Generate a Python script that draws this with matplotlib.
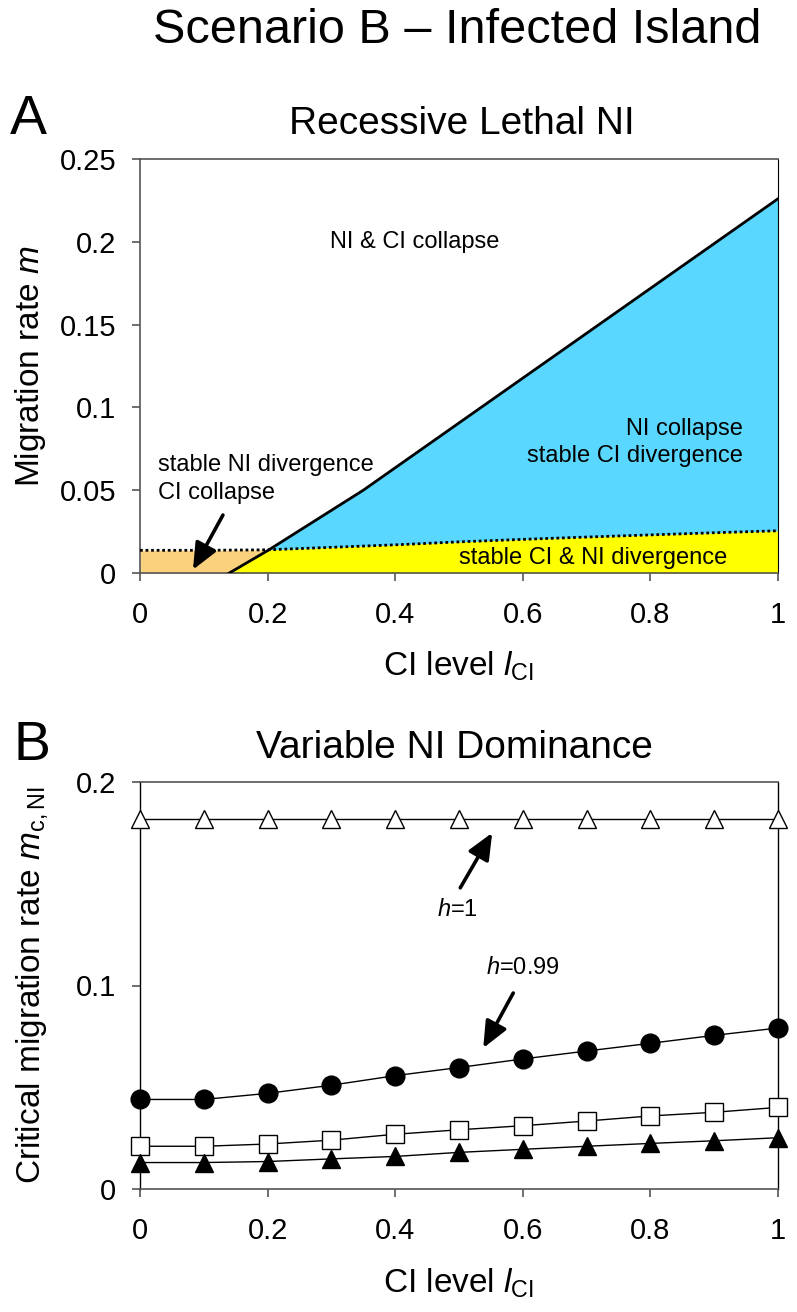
import numpy as np
import matplotlib
matplotlib.use("Agg")
import matplotlib.pyplot as plt
from matplotlib.ticker import FormatStrFormatter

plt.rcParams['font.family'] = ['Liberation Sans', 'DejaVu Sans']
plt.rcParams['mathtext.fontset'] = 'custom'
plt.rcParams['mathtext.rm'] = 'Liberation Sans'
plt.rcParams['mathtext.it'] = 'Liberation Sans:italic'
plt.rcParams['mathtext.bf'] = 'Liberation Sans:bold'

# ---- panel A: phase boundaries ----
solid_x = [0.14, 0.2, 0.35, 1.0]          # CI collapse boundary
solid_y = [0.0, 0.0135, 0.05, 0.226]
dotted_x = [0.0, 0.1, 0.2, 0.3, 0.4, 0.5, 0.6, 0.7, 0.8, 0.9, 1.0]   # NI collapse boundary
dotted_y = [0.0137, 0.0137, 0.014, 0.0155, 0.017, 0.0188, 0.0203, 0.0217, 0.023, 0.0243, 0.0255]

# ---- panel B: critical migration rate vs CI level ----
ci_level = [0.0, 0.1, 0.2, 0.3, 0.4, 0.5, 0.6, 0.7, 0.8, 0.9, 1.0]
m_h1 = [0.182] * 11
m_h099 = [0.044, 0.044, 0.047, 0.051, 0.0557, 0.0597, 0.0639, 0.0678, 0.0716, 0.0755, 0.0791]
m_sq = [0.021, 0.021, 0.0221, 0.024, 0.0269, 0.0291, 0.0311, 0.0334, 0.0359, 0.0377, 0.0401]
m_tri = [0.013, 0.013, 0.0135, 0.0148, 0.016, 0.018, 0.0195, 0.021, 0.0224, 0.0237, 0.0252]

orange = '#FAD27D'
blue = '#5AD7FF'
yellow = '#FFFF00'
spine_col = '#555555'

W, H = 797, 1312
fig = plt.figure(figsize=(W / 100, H / 100), dpi=100)
axA = fig.add_axes([140 / W, 1 - 573 / H, 638 / W, 414 / H])
axB = fig.add_axes([140 / W, 1 - 1189 / H, 638 / W, 407 / H])

def style(ax):
    for s in ['top', 'bottom', 'left']:
        ax.spines[s].set_color(spine_col)
        ax.spines[s].set_linewidth(1.2)
    ax.spines['right'].set_color('black')
    ax.tick_params(direction='out', length=6, width=1.2, color=spine_col, labelsize=21)
    ax.tick_params(axis='x', pad=14)
    ax.tick_params(axis='y', pad=11)
    ax.set_xlim(0, 1)
    ax.set_xticks([0, 0.2, 0.4, 0.6, 0.8, 1.0])
    ax.xaxis.set_major_formatter(FormatStrFormatter('%g'))
    ax.yaxis.set_major_formatter(FormatStrFormatter('%g'))
    ax.set_xlabel(r'CI level $\mathit{l}_{\rm CI}$', fontsize=24)

# ---- panel A ----
style(axA)
xs = np.linspace(0, 1, 1001)
s = np.interp(xs, solid_x, solid_y, left=0.0)
d = np.interp(xs, dotted_x, dotted_y)
axA.fill_between(xs, 0, d, color=orange, lw=0, zorder=1)
axA.fill_between(xs, 0, np.minimum(s, d), color=yellow, lw=0, zorder=2)
axA.fill_between(xs, d, s, where=s > d, interpolate=True, color=blue, lw=0, zorder=2)
axA.plot(dotted_x, dotted_y, color='black', ls=(0, (1, 1)), lw=2, zorder=3)
axA.plot(solid_x, solid_y, color='black', lw=2, zorder=4)
axA.set_ylim(0, 0.25)
axA.set_yticks([0, 0.05, 0.1, 0.15, 0.2, 0.25])
axA.set_ylabel(r'Migration rate $\mathit{m}$', fontsize=24, va='center')
axA.yaxis.set_label_coords(-0.172, 0.5)
axA.xaxis.set_label_coords(0.5, -0.185)

axA.text(0.43, 0.2, 'NI & CI collapse', fontsize=17, ha='center', va='center')
axA.text(0.028, 0.057, 'stable NI divergence\nCI collapse', fontsize=17,
         ha='left', va='center', linespacing=1.35)
axA.text(0.945, 0.079, 'NI collapse\nstable CI divergence', fontsize=17,
         ha='right', va='center', multialignment='right', linespacing=1.3)
axA.text(0.71, 0.009, 'stable CI & NI divergence', fontsize=17, ha='center', va='center')
arrow = dict(arrowstyle='-|>,head_length=0.8,head_width=0.35', color='black',
             lw=2.6, mutation_scale=20, shrinkA=0, shrinkB=0)
axA.annotate('', xy=(0.083, 0.002), xytext=(0.13, 0.035), arrowprops=arrow, zorder=5)

# ---- panel B ----
style(axB)
axB.set_ylim(0, 0.2)
axB.set_yticks([0, 0.1, 0.2])
axB.spines['left'].set_color('black')
axB.spines['left'].set_linewidth(1)
axB.spines['right'].set_linewidth(1)
common = dict(color='black', lw=1, clip_on=False, zorder=4)
axB.plot(ci_level, m_h1, marker='^', ms=13.5, mfc='white', mec='black', mew=1, **common)
axB.plot(ci_level, m_h099, marker='o', ms=13.5, mfc='black', mec='black', **common)
axB.plot(ci_level, m_sq, marker='s', ms=12.5, mfc='white', mec='black', mew=1, **common)
axB.plot(ci_level, m_tri, marker='^', ms=13.5, mfc='black', mec='black', **common)
axB.set_ylabel(r'Critical migration rate $\mathit{m}_{\rm c,NI}$', fontsize=24, va='center')
axB.yaxis.set_label_coords(-0.169, 0.5)
axB.xaxis.set_label_coords(0.5, -0.19)

axB.text(0.498, 0.137, r'$\mathit{h}$=1', fontsize=17, ha='center', va='center')
axB.text(0.600, 0.1086, r'$\mathit{h}$=0.99', fontsize=17, ha='center', va='center')
axB.annotate('', xy=(0.552, 0.175), xytext=(0.502, 0.148), arrowprops=arrow, zorder=5)
axB.annotate('', xy=(0.538, 0.0693), xytext=(0.585, 0.0963), arrowprops=arrow, zorder=5)

# ---- titles ----
fig.text(457 / W, 1 - 43 / H, 'Scenario B \u2013 Infected Island', fontsize=35,
         ha='center', va='baseline')
fig.text(10 / W, 1 - 134 / H, 'A', fontsize=40, ha='left', va='baseline')
fig.text(462 / W, 1 - 134 / H, 'Recessive Lethal NI', fontsize=28, ha='center', va='baseline')
fig.text(14 / W, 1 - 760 / H, 'B', fontsize=40, ha='left', va='baseline')
fig.text(454 / W, 1 - 758 / H, 'Variable NI Dominance', fontsize=28, ha='center', va='baseline')

fig.savefig('out.png', dpi=100)
